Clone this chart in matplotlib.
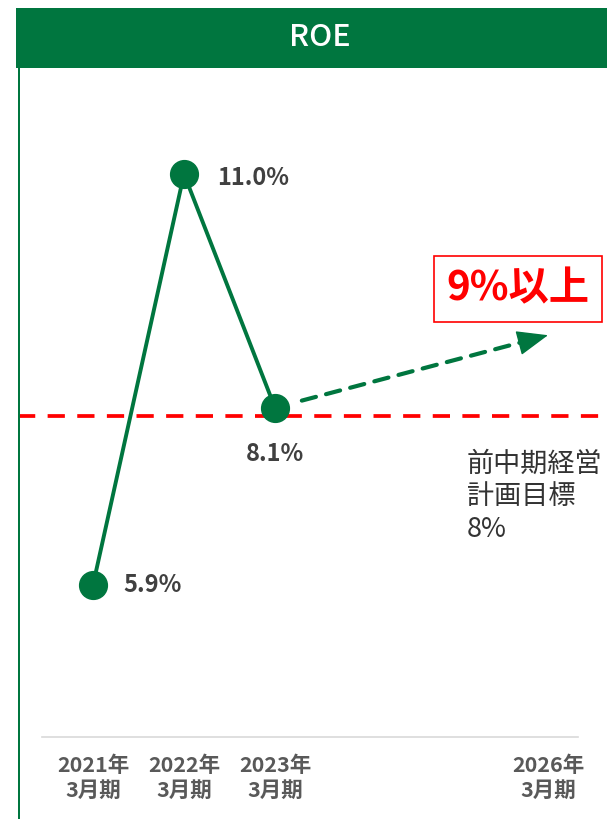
import matplotlib.pyplot as plt
from matplotlib.patches import Rectangle

plt.rcParams['font.family'] = ['Noto Sans CJK JP', 'DejaVu Sans']

# ROE実績と目標
years = [2021, 2022, 2023]
roe = [5.9, 11.0, 8.1]
target_year = 2026
target_roe = 9.0
prev_plan = 8.0
tick_years = [2021, 2022, 2023, 2026]
tick_labels = ['2021年\n3月期', '2022年\n3月期', '2023年\n3月期', '2026年\n3月期']

green = '#00763f'
red = '#ff0000'
gray_text = '#595959'

W, H = 607, 819
fig = plt.figure(figsize=(W / 100, H / 100), dpi=100)

# ヘッダーと左枠線
fig.patches.append(Rectangle((16 / W, 1 - 68 / H), 1, 60 / H, transform=fig.transFigure,
                             facecolor=green, edgecolor='none'))
fig.patches.append(Rectangle((17.5 / W, 0), 2.5 / W, 1 - 68 / H, transform=fig.transFigure,
                             facecolor=green, edgecolor='none'))
fig.text(320 / W, 1 - 37 / H, 'ROE', color='white', fontsize=22, fontweight='medium',
         ha='center', va='center')

ax = fig.add_axes([42 / W, 82 / H, 536 / W, (737 - 68) / H])
ax.set_xlim(2020.4396, 2026.3297)
ax.set_ylim(4.015, 12.315)
for s in ['top', 'right', 'left']:
    ax.spines[s].set_visible(False)
ax.spines['bottom'].set_color('#d9d9d9')
ax.spines['bottom'].set_linewidth(1.2)
ax.set_yticks([])
ax.set_xticks(tick_years)
ax.set_xticklabels(tick_labels, fontsize=15.5, fontweight='bold', color=gray_text,
                   linespacing=1.25)
ax.tick_params(axis='x', length=0, pad=13)

# 前中期経営計画目標ライン
ax.axhline(prev_plan, xmin=-24 / 536, xmax=1.06, color=red, lw=2.7,
           dashes=(4.6, 3.3), clip_on=False, zorder=1)

ax.plot(years, roe, color=green, lw=2.8, marker='o', markersize=20, zorder=3)

# 目標への点線矢印
ax.annotate('', xy=(target_year, target_roe), xytext=(years[-1], roe[-1]),
            arrowprops=dict(arrowstyle='-', color=green, lw=3, linestyle=(0, (3.5, 2.5)),
                            shrinkA=20, shrinkB=18))
ax.annotate('', xy=(target_year, target_roe),
            xytext=(target_year - 0.3, target_roe - 0.3 * (target_roe - roe[-1]) / 3),
            arrowprops=dict(arrowstyle='-|>,head_length=2.0,head_width=0.8', color=green,
                            lw=1, shrinkA=0, shrinkB=0))

label_kw = dict(fontsize=17, fontweight='bold', color='#404040', va='center')
ax.annotate(f'{roe[0]:.1f}%', (years[0], roe[0]), xytext=(22, 0),
            textcoords='offset points', ha='left', **label_kw)
ax.annotate(f'{roe[1]:.1f}%', (years[1], roe[1]), xytext=(24, -3),
            textcoords='offset points', ha='left', **label_kw)
ax.annotate(f'{roe[2]:.1f}%', (years[2], roe[2]), xytext=(0, -33),
            textcoords='offset points', ha='center', **label_kw)

ax.text(518 / W, 1 - 289 / H, f'{target_roe:.0f}%以上', transform=fig.transFigure,
        fontsize=29, fontweight='bold', color=red, ha='center', va='center',
        bbox=dict(boxstyle='square,pad=0.3', facecolor='white', edgecolor=red, lw=1.2))

ax.text(467 / W, 1 - 497 / H, f'前中期経営\n計画目標\n{prev_plan:.0f}%', transform=fig.transFigure,
        fontsize=19.5, color='#333333', ha='left', va='center', linespacing=1.25,
        clip_on=False)

fig.savefig('out.png', dpi=100)
